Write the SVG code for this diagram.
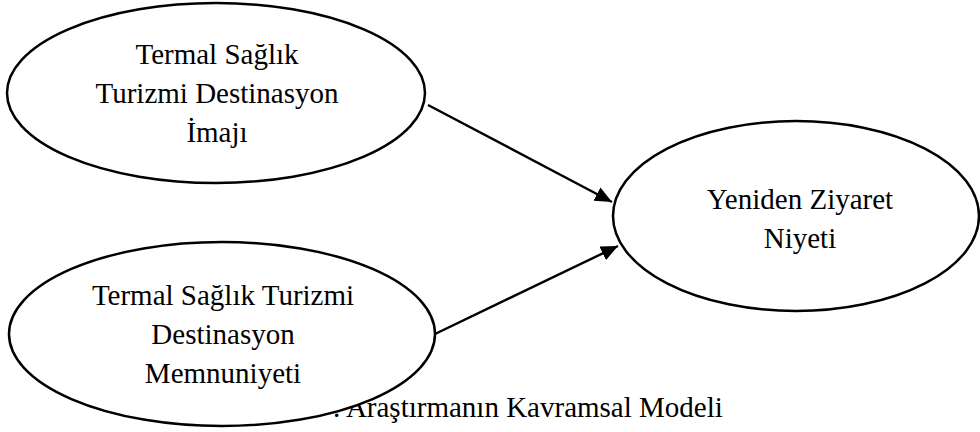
<svg xmlns="http://www.w3.org/2000/svg" width="980" height="432" viewBox="0 0 980 432">
  <defs>
    <marker id="arrow" markerUnits="userSpaceOnUse" markerWidth="19" markerHeight="16" refX="17" refY="7.5" orient="auto">
      <path d="M0,0 L17,7.5 L0,15 Z" fill="#000"/>
    </marker>
  </defs>
  <style>
    .node ellipse { fill: #fff; stroke: #000; stroke-width: 2.5; }
    .lbl { font-family: "Liberation Serif", "Times New Roman", serif; font-size: 29px; fill: #000; text-anchor: middle; }
    .cap { font-family: "Liberation Serif", "Times New Roman", serif; font-size: 29px; fill: #000; }
    .edge { stroke: #000; stroke-width: 2.4; fill: none; marker-end: url(#arrow); }
  </style>
  <rect width="980" height="432" fill="#fff"/>
  <text class="cap" x="333" y="417">. Araştırmanın Kavramsal Modeli</text>
  <g id="connectors">
    <line class="edge" x1="428" y1="105" x2="612" y2="202"/>
    <line class="edge" x1="435" y1="334" x2="618" y2="246"/>
  </g>
  <g id="node-imaj" class="node">
    <ellipse cx="216" cy="93" rx="209" ry="90"/>
    <text class="lbl" x="217" y="64">Termal Sağlık</text>
    <text class="lbl" x="217" y="103">Turizmi Destinasyon</text>
    <text class="lbl" x="217" y="142">İmajı</text>
  </g>
  <g id="node-memnuniyet" class="node">
    <ellipse cx="222" cy="334" rx="213" ry="92"/>
    <text class="lbl" x="223" y="305">Termal Sağlık Turizmi</text>
    <text class="lbl" x="223" y="344">Destinasyon</text>
    <text class="lbl" x="223" y="383">Memnuniyeti</text>
  </g>
  <g id="node-niyet" class="node">
    <ellipse cx="796" cy="216" rx="183" ry="95"/>
    <text class="lbl" x="800" y="209">Yeniden Ziyaret</text>
    <text class="lbl" x="800" y="248">Niyeti</text>
  </g>
</svg>
